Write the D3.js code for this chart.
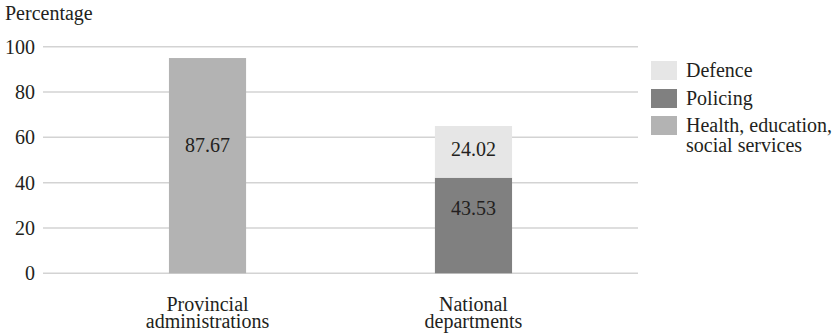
<!DOCTYPE html>
<html><head><meta charset="utf-8">
<script src="https://cdn.jsdelivr.net/npm/d3@7"></script>
<style>body{margin:0;background:#fff}svg{display:block}</style>
</head><body><svg id="c" width="840" height="335"></svg>
<script>
const categories = ["Provincial administrations", "National departments"];
const categoryLines = [["Provincial", "administrations"], ["National", "departments"]];
const seriesNames = ["Health, education, social services", "Policing", "Defence"];
const healthValues = [95.0, 0];
const policingValues = [0, 42.2];
const defenceValues = [0, 22.8];
const labelTexts = ["87.67", "43.53", "24.02"];
const yTicks = [0, 20, 40, 60, 80, 100];
const legendItems = [["Defence"], ["Policing"], ["Health, education,", "social services"]];

const colors = {"Health, education, social services": "#b3b3b3", "Policing": "#808080", "Defence": "#e6e6e6"};
const legendColors = ["#e6e6e6", "#808080", "#b3b3b3"];

const FONT = '"Liberation Serif", "Times New Roman", Times, serif';
const TXT = "#231f20";
const svg = d3.select("#c").attr("font-family", FONT);
const fs = 20;
const x = d3.scaleBand().domain(categories).range([43, 638]).paddingInner(0.71).paddingOuter(0.4735);
const y = d3.scaleLinear().domain([0, 100]).range([273.3, 46.7]);

// grid
svg.append("g").selectAll("line").data(yTicks).join("line")
  .attr("x1", 43).attr("x2", 638).attr("y1", d => y(d)).attr("y2", d => y(d))
  .attr("stroke", "#d3d3d3").attr("stroke-width", 1.5);

// y axis labels
const ya = svg.append("g").attr("transform", "translate(35,0)")
  .call(d3.axisLeft(y).tickValues(yTicks).tickSize(0).tickPadding(0).tickFormat(d3.format("d")));
ya.attr("font-family", FONT).attr("font-size", fs);
ya.select(".domain").remove();
ya.selectAll("text").attr("fill", TXT);

svg.append("text").attr("x", 5).attr("y", 20).attr("font-size", fs).attr("fill", TXT).text("Percentage");

// stacked bars
const rows = categories.map((c, i) => ({cat: c,
  "Health, education, social services": healthValues[i], "Policing": policingValues[i], "Defence": defenceValues[i]}));
const stack = d3.stack().keys(seriesNames)(rows);
svg.append("g").selectAll("g").data(stack).join("g").attr("fill", d => colors[d.key])
  .selectAll("rect").data(d => d.filter(p => p[1] > p[0])).join("rect")
  .attr("x", d => x(d.data.cat)).attr("width", x.bandwidth())
  .attr("y", d => y(d[1])).attr("height", d => y(d[0]) - y(d[1]));

// data labels (anchor heights in data units as seen in the picture)
const labelAnchors = [[categories[0], 56.4], [categories[1], 28.5], [categories[1], 54.8]];
svg.append("g").selectAll("text").data(labelTexts).join("text")
  .attr("x", (d, i) => x(labelAnchors[i][0]) + x.bandwidth() / 2)
  .attr("y", (d, i) => y(labelAnchors[i][1]))
  .attr("dy", "0.32em").attr("text-anchor", "middle").attr("font-size", fs).attr("fill", TXT).text(d => d);

// x labels
categories.forEach((c, i) => {
  categoryLines[i].forEach((l, j) => {
    svg.append("text").attr("text-anchor", "middle").attr("font-size", fs).attr("fill", TXT)
      .attr("x", x(c) + x.bandwidth() / 2).attr("y", 310.5 + j * 17.5).text(l);
  });
});

// legend
const lgY = [61, 89, 116];
legendItems.forEach((lines, i) => {
  svg.append("rect").attr("x", 651).attr("y", lgY[i]).attr("width", 26).attr("height", 19).attr("fill", legendColors[i]);
  lines.forEach((l, j) => svg.append("text").attr("x", 686).attr("y", lgY[i] + 15.7 + j * 20)
    .attr("font-size", fs).attr("fill", TXT).text(l));
});
</script></body></html>
